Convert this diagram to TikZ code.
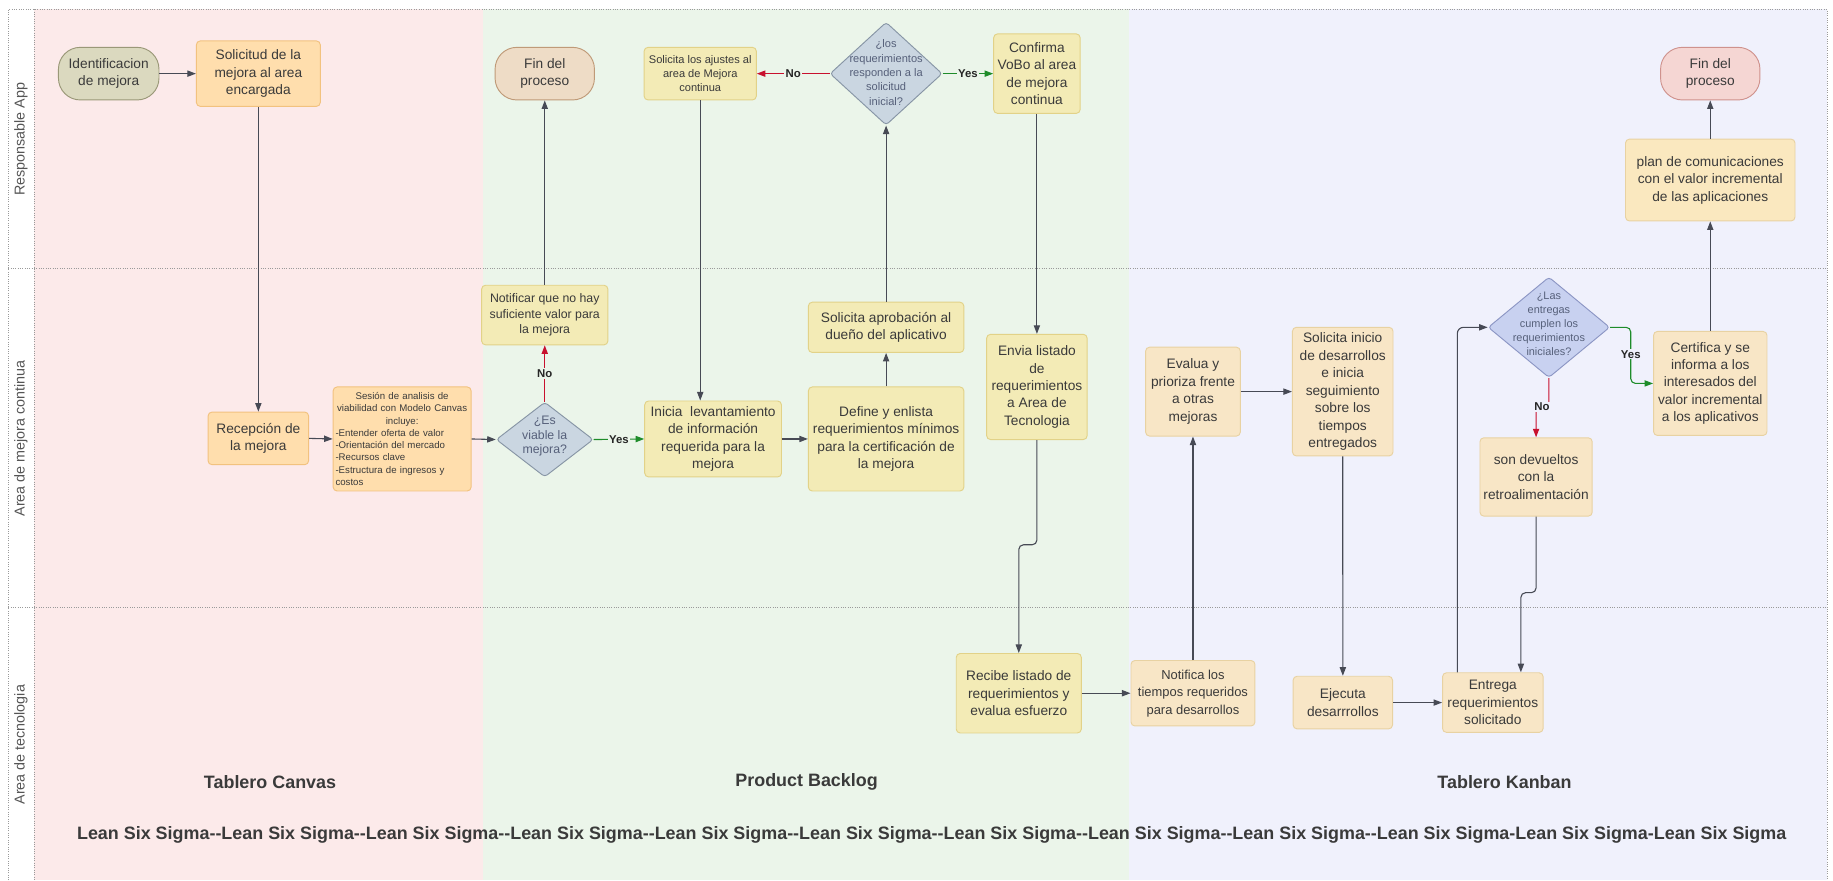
\documentclass[tikz,border=0pt]{standalone}
\usepackage{fontspec}
\setmainfont{Liberation Sans}[Ligatures=TeXOff]
\usetikzlibrary{arrows.meta,shapes.geometric,calc}
\definecolor{pinkbg}{HTML}{FCEAEA}
\definecolor{greenbg}{HTML}{EBF5EA}
\definecolor{lavbg}{HTML}{F0F1FC}
\definecolor{dotc}{HTML}{9A9A9A}
\definecolor{txt}{HTML}{3A3A3A}
\definecolor{lanetxt}{HTML}{555555}
\definecolor{lnc}{HTML}{474A55}
\definecolor{redc}{HTML}{C8102E}
\definecolor{grnc}{HTML}{1E8C2A}
\definecolor{orf}{HTML}{FFDEAD}
\definecolor{ord}{HTML}{F2C27F}
\definecolor{yef}{HTML}{F3EBB6}
\definecolor{yed}{HTML}{E2D288}
\definecolor{bef}{HTML}{F8E6C6}
\definecolor{bed}{HTML}{E8D2A2}
\definecolor{plf}{HTML}{FAE8BF}
\definecolor{dgf}{HTML}{CAD6E1}
\definecolor{dgd}{HTML}{8795A5}
\definecolor{dbf}{HTML}{C8D1F0}
\definecolor{dbd}{HTML}{8C96C4}
\definecolor{dtx}{HTML}{56607A}
\definecolor{idf}{HTML}{DBD9BF}
\definecolor{idd}{HTML}{9A9878}
\definecolor{fonef}{HTML}{EEDCC6}
\definecolor{foned}{HTML}{BF9A78}
\definecolor{ftwof}{HTML}{F5D6D3}
\definecolor{ftwod}{HTML}{CF928D}
\begin{document}
\begin{tikzpicture}[x=0.75pt,y=-0.75pt,
 sz/.style 2 args={minimum width=#1*0.75pt,minimum height=#2*0.75pt},
 boxbase/.style={draw, line width=0.6pt, rounded corners=2.5pt, align=center, inner sep=0.5pt, text=txt, font=\fontsize{8.8}{11.2}\selectfont},
 obox/.style={boxbase, fill=orf, draw=ord},
 ybox/.style={boxbase, fill=yef, draw=yed},
 bbox/.style={boxbase, fill=bef, draw=bed},
 term/.style={boxbase, rounded corners=14pt},
 dia/.style={diamond, draw, line width=0.6pt, rounded corners=2pt, inner sep=0pt},
 dtext/.style={align=center, inner sep=0pt, text=dtx, font=\fontsize{7.1}{9.2}\selectfont},
 arr/.style={draw=lnc, line width=0.7pt, -{Triangle[length=5.5pt,width=4pt]}},
 rarr/.style={draw=redc, line width=0.7pt, -{Triangle[length=5.5pt,width=4pt]}},
 garr/.style={draw=grnc, line width=0.7pt, -{Triangle[length=5.5pt,width=4pt]}},
 yn/.style={font=\bfseries\fontsize{7.3}{8.5}\selectfont, text=black!85, inner sep=0.8pt},
 dotline/.style={draw=dotc, line width=0.5pt, densely dotted},
 lanelbl/.style={rotate=90, text=lanetxt, font=\fontsize{9.2}{11}\selectfont, inner sep=0pt},
 coltitle/.style={text=txt, font=\bfseries\fontsize{11.5}{14}\selectfont, inner sep=0pt}
]
\useasboundingbox (0,0) rectangle (1568,753);
% backgrounds
\fill[pinkbg] (29,8) rectangle (413,753);
\fill[greenbg] (413,8) rectangle (966,753);
\fill[lavbg] (966,8) rectangle (1563,753);
\draw[dotline] (7,753) -- (7,8) -- (1563,8) -- (1563,753);
\draw[dotline] (29,8) -- (29,753);
\draw[dotline] (7,230) -- (1563,230);
\draw[dotline] (7,520) -- (1563,520);
% lane labels
\node[lanelbl] (ln1) at (18,119) {Responsable App};
\node[lanelbl] (ln2) at (18,375) {Area de mejora continua};
\node[lanelbl] (ln3) at (18,637) {Area de tecnologia};
% lane 1
\node[term, fill=idf, draw=idd, sz={86}{45}] (ident) at (93,63) {Identificacion\\de mejora};
\node[obox, sz={106}{56}] (solic) at (221,63) {Solicitud de la\\mejora al area\\encargada};
\node[term, fill=fonef, draw=foned, sz={85}{45}] (fin1) at (466,63) {Fin del\\proceso};
\node[ybox, sz={96}{45}, font=\fontsize{7.1}{9.1}\selectfont] (ajustes) at (599,63) {Solicita los ajustes al\\area de Mejora\\continua};
\node[dia, fill=dgf, draw=dgd, sz={96}{88}] (d1) at (758,63) {};
\node[dtext] (d1t) at (758,62) {¿los\\requerimientos\\responden a la\\solicitud\\inicial?};
\node[ybox, sz={74}{68}] (confirma) at (887,63) {Confirma\\VoBo al area\\de mejora\\continua};
\node[term, fill=ftwof, draw=ftwod, sz={85}{45}] (fin2) at (1463,63) {Fin del\\proceso};
\node[boxbase, fill=plf, draw=bed, sz={145}{70}] (plan) at (1463,154) {plan de comunicaciones\\con el valor incremental\\de las aplicaciones};
% lane 2
\node[obox, sz={86}{45}] (recep) at (221,375) {Recepción de\\la mejora};
\node[obox, sz={118}{89}, text width=85.5pt, align=left, font=\fontsize{6.2}{7.9}\selectfont] (sesion) at (344,375.5) {{\centering Sesión de analisis de\\viabilidad con Modelo Canvas\\incluye:\par}-Entender oferta de valor\\-Orientación del mercado\\-Recursos clave\\-Estructura de ingresos y\\costos};
\node[dia, fill=dgf, draw=dgd, sz={83}{64}] (viable) at (466,376) {};
\node[dtext, font=\fontsize{7.9}{9.6}\selectfont] (viablet) at (466,373) {¿Es\\viable la\\mejora?};
\node[ybox, sz={108}{51}, font=\fontsize{7.9}{10}\selectfont] (notif) at (466,269.5) {Notificar que no hay\\suficiente valor para\\la mejora};
\node[ybox, sz={117}{65}] (inicia) at (610,375.5) {Inicia\ \ levantamiento\\de información\\requerida para la\\mejora};
\node[ybox, sz={133}{89}] (define) at (758,375.5) {Define y enlista\\requerimientos mínimos\\para la certificación de\\la mejora};
\node[ybox, sz={133}{43}] (aprob) at (758,280) {Solicita aprobación al\\dueño del aplicativo};
\node[ybox, sz={86}{90}] (envia) at (887,331) {Envia listado\\de\\requerimientos\\a Area de\\Tecnologia};
\node[bbox, sz={81}{76}] (evalua) at (1020.5,335) {Evalua y\\prioriza frente\\a otras\\mejoras};
\node[bbox, sz={86}{110}] (solini) at (1148.6,335) {Solicita inicio\\de desarrollos\\e inicia\\seguimiento\\sobre los\\tiempos\\entregados};
\node[dia, fill=dbf, draw=dbd, sz={104}{86}] (d3) at (1325,280) {};
\node[dtext, font=\fontsize{7}{8.9}\selectfont] (d3t) at (1325,277) {¿Las\\entregas\\cumplen los\\requerimientos\\iniciales?};
\node[bbox, sz={96}{67}] (devueltos) at (1314,408) {son devueltos\\con la\\retroalimentación};
\node[bbox, sz={97}{89}] (certifica) at (1463,328) {Certifica y se\\informa a los\\interesados del\\valor incremental\\a los aplicativos};
% lane 3
\node[ybox, sz={107}{68}] (recibe) at (871.5,593) {Recibe listado de\\requerimientos y\\evalua esfuerzo};
\node[bbox, sz={106}{56}, font=\fontsize{8.3}{11.2}\selectfont] (notifica) at (1020.5,593) {Notifica los\\tiempos requeridos\\para desarrollos};
\node[bbox, sz={85}{45}] (ejecuta) at (1148.7,601) {Ejecuta\\desarrrollos};
\node[bbox, sz={86}{51}] (entrega) at (1277,601) {Entrega\\requerimientos\\solicitado};
% titles
\node[coltitle] (t1) at (231,668.6) {Tablero Canvas};
\node[coltitle] (t2) at (690,668.6) {Product Backlog};
\node[coltitle] (t3) at (1287,668.6) {Tablero Kanban};
\node[coltitle] (lss) at (797,714) {Lean Six Sigma--Lean Six Sigma--Lean Six Sigma--Lean Six Sigma--Lean Six Sigma--Lean Six Sigma--Lean Six Sigma--Lean Six Sigma--Lean Six Sigma--Lean Six Sigma-Lean Six Sigma-Lean Six Sigma};
% waypoints
\coordinate (w1) at (887,466);
\coordinate (w2) at (1325,348);
\coordinate (w3) at (1314,507);
\coordinate (w4) at (1395,280);
% connectors
\draw[arr] (ident.east) -- (solic.west);
\draw[arr] (solic.south) -- (recep.north);
\draw[arr] (recep.east) -- (sesion.west);
\draw[arr] (sesion.east) -- (viable.west);
\draw[garr] (viable.east) -- (inicia.west) node[yn, midway, fill=greenbg] (y1) {Yes};
\draw[rarr] (viable.north) -- (notif.south) node[yn, midway, fill=greenbg] (n1) {No};
\draw[arr] (notif.north) -- (fin1.south);
\draw[arr] (ajustes.south) -- (ajustes.south |- inicia.north);
\draw[arr] (inicia.east) -- (define.west);
\draw[arr] (define.north) -- (aprob.south);
\draw[arr] (aprob.north) -- (d1.south);
\draw[rarr] (d1.west) -- (ajustes.east) node[yn, midway, fill=greenbg] (n2) {No};
\draw[garr] (d1.east) -- (confirma.west) node[yn, midway, fill=greenbg] (y2) {Yes};
\draw[arr] (confirma.south) -- (envia.north);
\draw[arr, rounded corners=3pt] (envia.south) -- (w1) -| (recibe.north);
\draw[arr] (recibe.east) -- (notifica.west);
\draw[arr] (notifica.north) -- (evalua.south);
\draw[arr] (evalua.east) -- (solini.west);
\draw[arr] (solini.south) -- (ejecuta.north);
\draw[arr] (ejecuta.east) -- (entrega.west);
\draw[arr, rounded corners=4pt] ($(entrega.north west)+(13,0)$) |- (d3.west);
\draw[rarr, rounded corners=2pt] (d3.south) -- (w2) -| (devueltos.north);
\node[yn, fill=lavbg] (n3) at (1319,348) {No};
\draw[arr, rounded corners=3pt] (devueltos.south) -- (w3) -| ($(entrega.north)+(24,0)$);
\draw[garr, rounded corners=3pt] (d3.east) -- (w4) |- (certifica.west);
\node[yn, fill=lavbg] (y3) at (1395,303) {Yes};
\draw[arr] (certifica.north) -- (plan.south);
\draw[arr] (plan.north) -- (fin2.south);
\end{tikzpicture}
\end{document}
